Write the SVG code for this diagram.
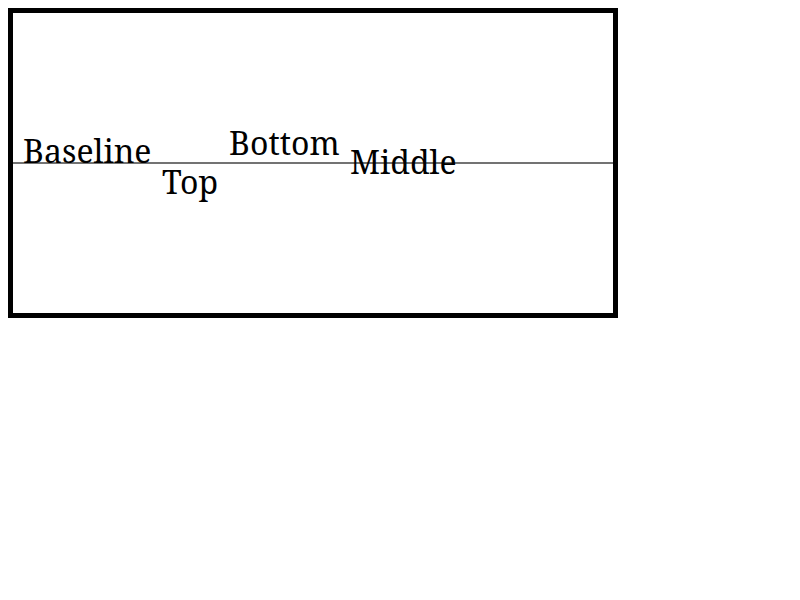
<svg xmlns="http://www.w3.org/2000/svg" width="800" height="600" viewBox="0 0 800 600">
<style>
text { font-family: "Noto Serif", "DejaVu Serif", serif; font-size: 32px; fill: #000; }
</style>
<rect x="0" y="0" width="800" height="600" fill="#fff"/>
<g id="frame">
<rect x="10.5" y="10.5" width="605" height="305" fill="none" stroke="#000" stroke-width="5"/>
</g>
<g id="connectors">
<line x1="13" y1="163" x2="613" y2="163" stroke="#444" stroke-width="1.5"/>
</g>
<g id="baseline"><text x="23" y="163" dominant-baseline="alphabetic">Baseline</text></g>
<g id="top"><text x="162" y="160" dominant-baseline="text-before-edge">Top</text></g>
<g id="bottom"><text x="229" y="164" dominant-baseline="text-after-edge">Bottom</text></g>
<g id="middle"><text x="350" y="165" dominant-baseline="middle">Middle</text></g>
</svg>
